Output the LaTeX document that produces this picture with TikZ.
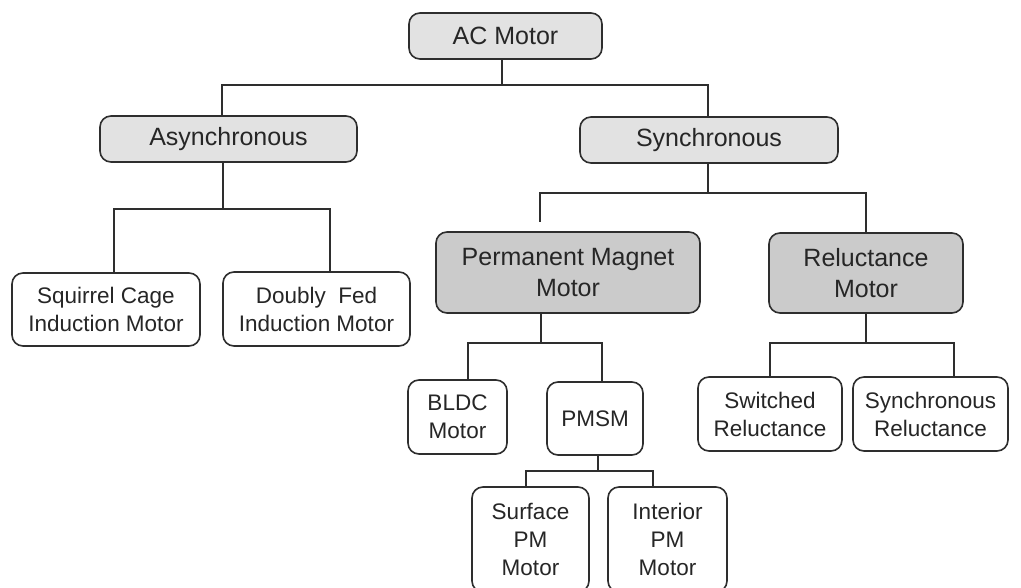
\documentclass[tikz,border=0pt]{standalone}
\usepackage{fontspec}
\setmainfont{Liberation Sans}
\definecolor{lightfill}{HTML}{E2E2E2}
\definecolor{darkfill}{HTML}{CBCBCB}
\definecolor{edge}{HTML}{2E2E2E}
\definecolor{txt}{HTML}{262626}
\newcommand\bigtxt{\fontsize{25}{31}\selectfont}
\newcommand\smalltxt{\fontsize{22.5}{28}\selectfont}
\tikzset{
  box/.style={draw=edge, line width=1.6pt, rounded corners=11pt, inner sep=0pt,
    align=center, text=txt},
  lvlA/.style={box, fill=lightfill, font=\bigtxt},
  lvlB/.style={box, fill=darkfill, font=\bigtxt},
  leaf/.style={box, fill=white, font=\smalltxt},
  conn/.style={draw=edge, line width=1.6pt}
}
\begin{document}
\begin{tikzpicture}[x=1pt,y=-1pt]
\useasboundingbox (0,0) rectangle (1021,587);
\clip (0,0) rectangle (1021,587);
\fill[white] (0,0) rectangle (1021,587);

\node[lvlA, minimum width=193pt, minimum height=46pt] (ac) at (505.5,36) {AC Motor};
\node[lvlA, minimum width=257pt, minimum height=46pt] (async) at (228.5,139) {Asynchronous};
\node[lvlA, minimum width=258pt, minimum height=46pt] (sync) at (709,140) {Synchronous};

\node[leaf, minimum width=188pt, minimum height=73pt] (sq) at (106,309.5) {Squirrel Cage\\Induction Motor};
\node[leaf, minimum width=187pt, minimum height=74pt] (df) at (316.5,309) {Doubly~ Fed\\Induction Motor};

\node[lvlB, minimum width=264pt, minimum height=81pt] (pm) at (568,272.5) {Permanent Magnet\\Motor};
\node[lvlB, minimum width=194pt, minimum height=80pt] (rel) at (866,273) {Reluctance\\Motor};

\node[leaf, minimum width=99pt, minimum height=74pt] (bldc) at (457.5,417) {BLDC\\Motor};
\node[leaf, minimum width=96pt, minimum height=73pt] (pmsm) at (595,418.5) {PMSM};
\node[leaf, minimum width=144pt, minimum height=74pt] (sw) at (770,414) {Switched\\Reluctance};
\node[leaf, minimum width=155pt, minimum height=74pt] (sr) at (930.5,414) {Synchronous\\Reluctance};

\node[leaf, minimum width=117pt, minimum height=105pt] (spm) at (530.5,539.5) {Surface\\PM\\Motor};
\node[leaf, minimum width=119pt, minimum height=105pt] (ipm) at (667.5,539.5) {Interior\\PM\\Motor};

% AC Motor
\draw[conn] ([xshift=-3.5pt]ac.south) -- ++(0,25) coordinate (b0);
\draw[conn] (b0) -| ([xshift=-6.5pt]async.north);
\draw[conn] (b0) -| ([xshift=-1pt]sync.north);
% Asynchronous
\draw[conn] ([xshift=-5.5pt]async.south) -- ++(0,46) coordinate (b1);
\draw[conn] (b1) -| ([xshift=8pt]sq.north);
\draw[conn] (b1) -| ([xshift=13.5pt]df.north);
% Synchronous
\draw[conn] ([xshift=-1pt]sync.south) -- ++(0,29) coordinate (b2);
\draw[conn] (b2) -| ([xshift=-28pt,yshift=9pt]pm.north);
\draw[conn] (b2) -| (rel.north);
% Permanent Magnet
\draw[conn] ([xshift=-27pt]pm.south) -- ++(0,29) coordinate (b3);
\draw[conn] (b3) -| ([xshift=10.5pt]bldc.north);
\draw[conn] (b3) -| ([xshift=7pt]pmsm.north);
% Reluctance
\draw[conn] (rel.south) -- ++(0,29) coordinate (b4);
\draw[conn] (b4) -| (sw.north);
\draw[conn] (b4) -| ([xshift=23.5pt]sr.north);
% PMSM
\draw[conn] ([xshift=3pt]pmsm.south) -- ++(0,15) coordinate (b5);
\draw[conn] (b5) -| ([xshift=-4.5pt]spm.north);
\draw[conn] (b5) -| ([xshift=-14.5pt]ipm.north);
\end{tikzpicture}
\end{document}
